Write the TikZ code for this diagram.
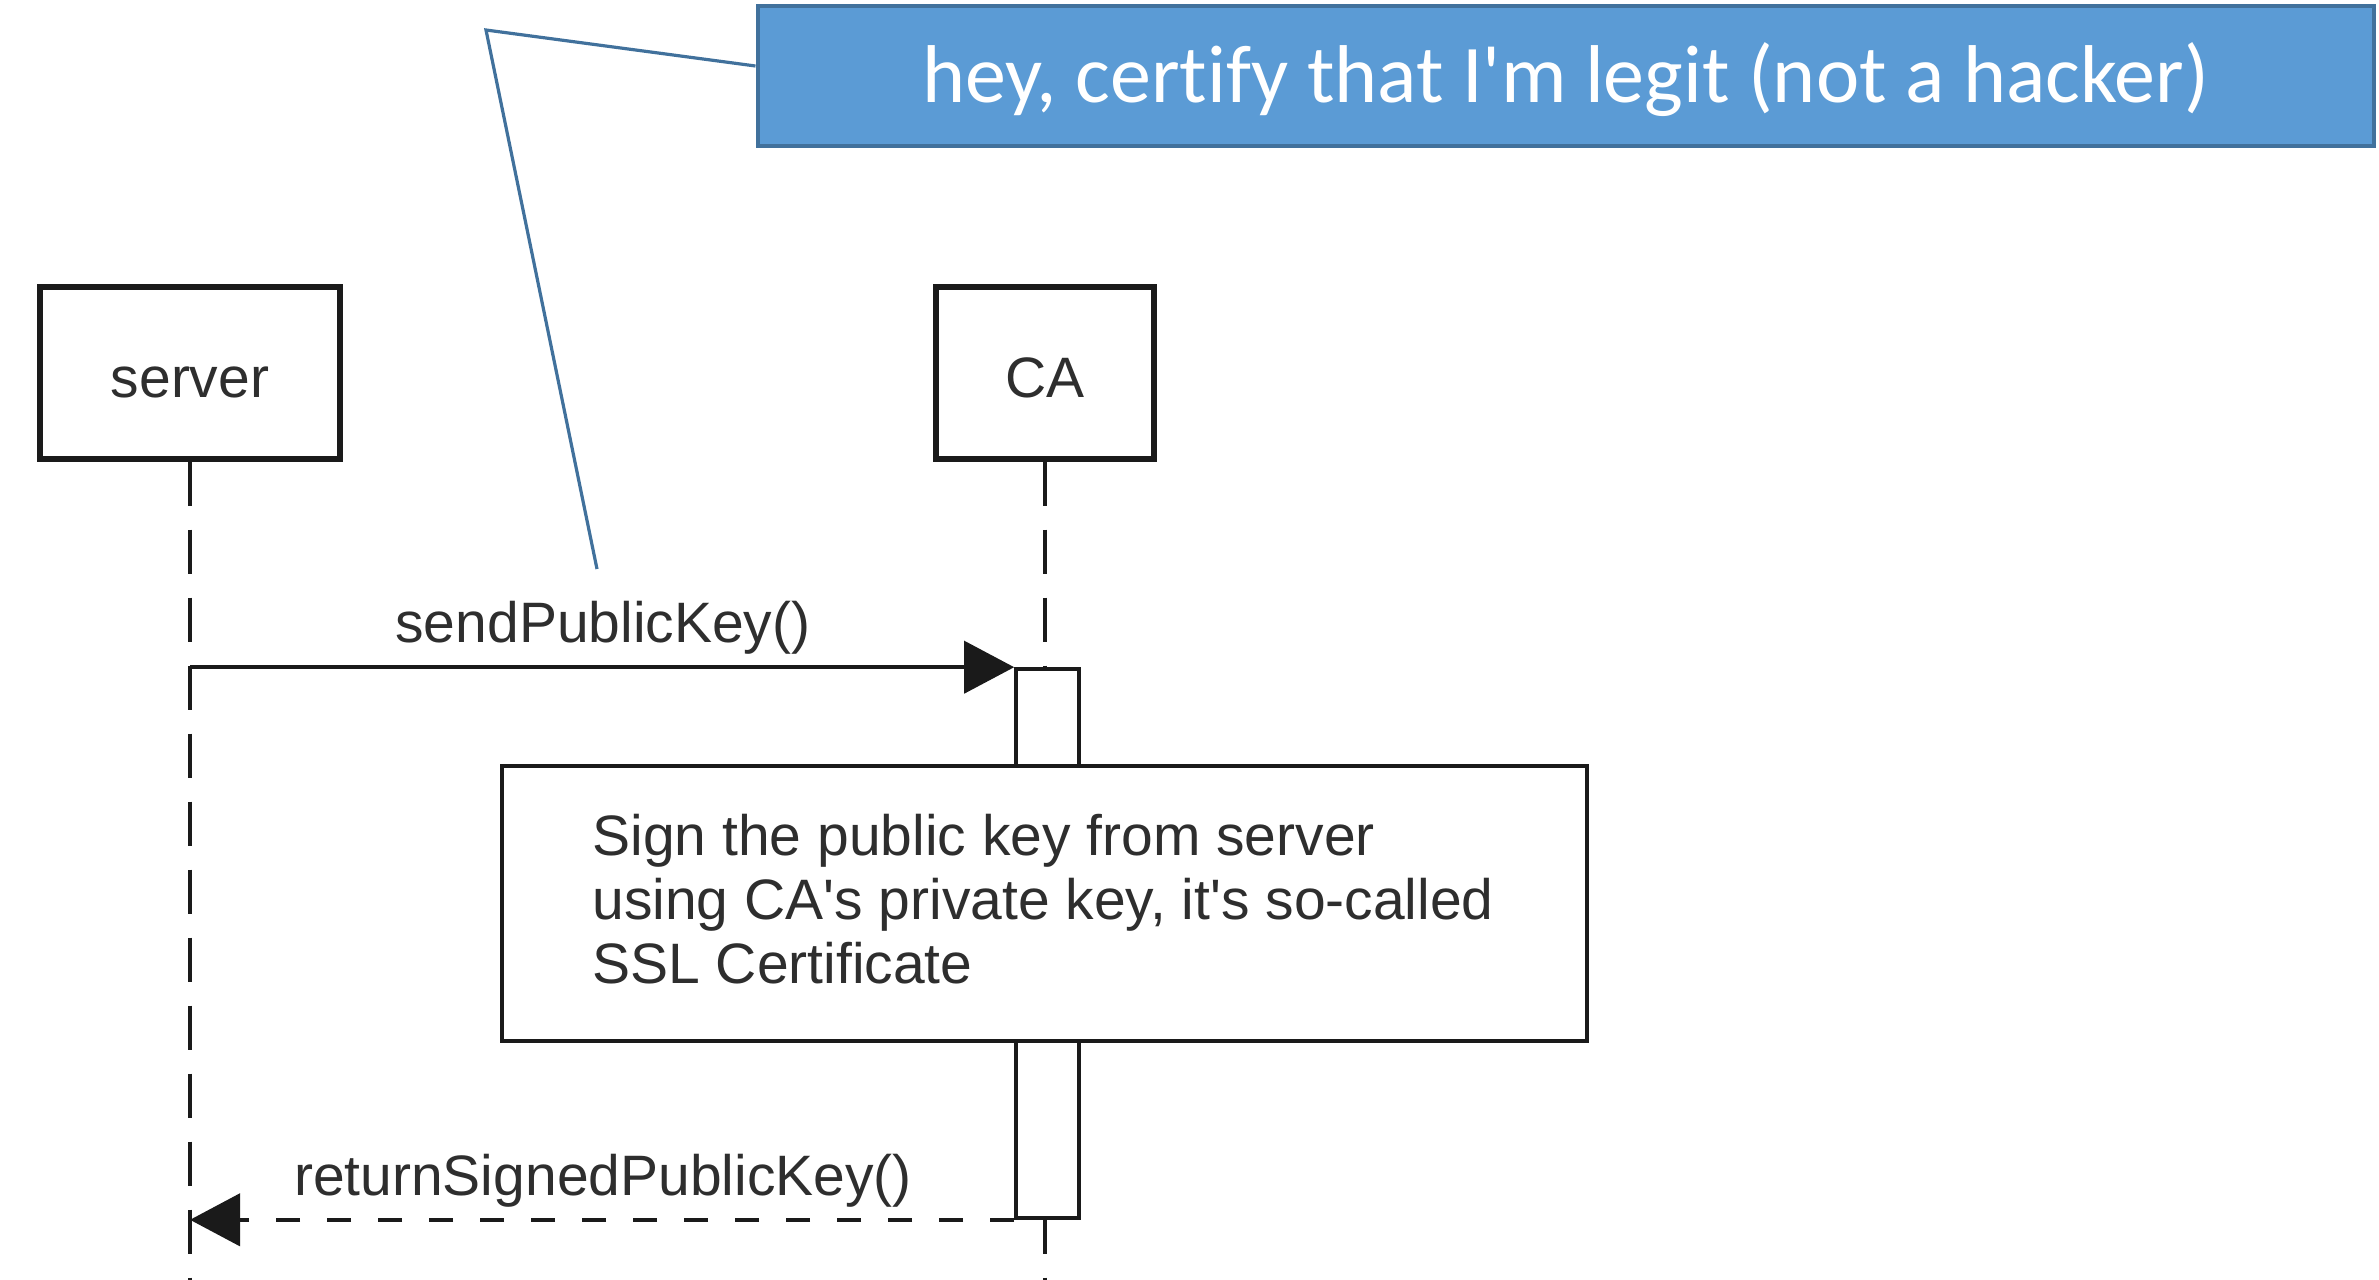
\documentclass[tikz,border=0pt]{standalone}
\usepackage{fontspec}
\setmainfont{Liberation Sans}[Ligatures={TeXOff,NoCommon}]
\newfontfamily\calibrifont{Carlito}[Ligatures={TeXOff,NoCommon}]
\usetikzlibrary{arrows.meta}
\definecolor{calloutfill}{HTML}{5B9BD5}
\definecolor{calloutedge}{HTML}{41719C}
\definecolor{ink}{HTML}{1A1A1A}
\definecolor{inktext}{HTML}{2E2E2E}
\begin{document}
\begin{tikzpicture}[x=0.5pt,y=-0.5pt,
  actor/.style={draw=ink,line width=3pt,fill=white,minimum width=#1,minimum height=86pt,
    inner sep=0pt,text height=24.5pt,text depth=0pt,
    font=\fontsize{28.5}{32}\selectfont,text=inktext},
  lifeline/.style={draw=ink,line width=1.8pt,dash pattern=on 22pt off 12pt},
  activation/.style={draw=ink,line width=1.8pt,fill=white,minimum width=31.5pt,minimum height=274.5pt,inner sep=0pt},
  msg/.style={draw=ink,line width=2pt,-{Triangle[length=25pt,width=26pt]}},
  reply/.style={draw=ink,line width=2.2pt,dash pattern=on 12pt off 13.5pt,-{Triangle[length=25pt,width=26pt]}},
  msglabel/.style={font=\fontsize{28.5}{32}\selectfont,text=inktext,inner sep=0pt,anchor=base},
  note/.style={draw=ink,line width=2pt,fill=white,minimum width=542.5pt,minimum height=137.5pt,inner sep=0pt},
  notetext/.style={font=\fontsize{28.5}{32}\selectfont,text=inktext,inner sep=0pt,align=left},
  callout/.style={draw=calloutedge,fill=calloutfill,line width=2pt,minimum width=808pt,minimum height=70pt,
    inner sep=0pt,text=white,text height=26pt,text depth=0pt,font=\calibrifont\fontsize{41}{49}\selectfont},
  pointer/.style={draw=calloutedge,line width=1.6pt}
]
\useasboundingbox (0,0) rectangle (2379,1280);
\coordinate (bottom) at (0,1280);

% actors
\node[actor=150pt] (server) at (190,372.5) {server};
\node[actor=109pt] (ca) at (1045,372.5) {CA};

% lifelines
\draw[lifeline] (server.south) -- (server.south |- bottom);
\draw[lifeline] (ca.south) -- (ca.south |- bottom);

% activation
\node[activation] (act) at (1047.5,943.5) {};

% messages
\draw[msg] (server.south |- act.north west) -- (act.north west);
\node[msglabel] (sendlbl) at (603,642) {sendPublicKey()};
\draw[reply] (act.south west) -- (server.south |- act.south west);
\node[msglabel] (retlbl) at (603,1195) {returnSignedPublicKey()};

% note
\node[note] (note) at (1044.5,903.5) {};
\node[notetext,anchor=north west] (notetxt) at (592,814) {Sign the public key from server\\using CA's private key, it's so-called\\SSL Certificate};

% callout
\node[callout] (callout) at (1565.5,76) {hey, certify that I'm legit (not a hacker)};
\coordinate (knee) at (486,30);
\coordinate (tip) at (597,569);
\draw[pointer] ([yshift=5pt]callout.west) -- (knee) -- (tip);
\end{tikzpicture}
\end{document}
